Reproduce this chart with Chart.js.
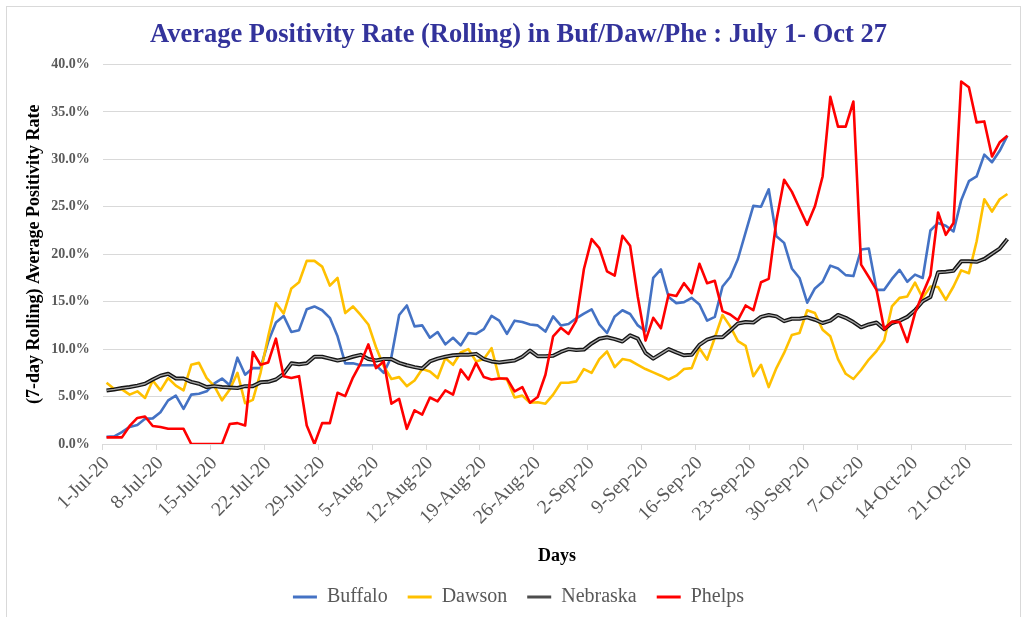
<!DOCTYPE html>
<html>
<head>
<meta charset="utf-8">
<title>Average Positivity Rate</title>
<script src="https://cdn.jsdelivr.net/npm/chart.js@4.4.1/dist/chart.umd.min.js"></script>
<style>
    html, body { margin: 0; padding: 0; background: #fff; }
    #wrap { position: relative; width: 1026px; height: 617px; overflow: hidden; }
    #frame { position: absolute; left: 6px; top: 6px; width: 1015px; height: 660px; border: 1px solid #d9d9d9; box-sizing: border-box; }
    #chart { position: absolute; left: 0; top: 0; }
</style>
</head>
<body>
<div id="wrap">
    <div id="frame"></div>
    <canvas id="chart" width="1026" height="617"></canvas>
</div>
<script>
// Days 1-Jul-20 .. 26-Oct-20 (one value per day)
const months = [['Jul', 31], ['Aug', 31], ['Sep', 30], ['Oct', 26]];
const categories = [];
months.forEach(([name, days]) => {
    for (let d = 1; d <= days; d++) categories.push(d + '-' + name + '-20');
});

// weekly tick labels shown on the x axis
const tickLabels = ['1-Jul-20', '8-Jul-20', '15-Jul-20', '22-Jul-20', '29-Jul-20', '5-Aug-20', '12-Aug-20',
    '19-Aug-20', '26-Aug-20', '2-Sep-20', '9-Sep-20', '16-Sep-20', '23-Sep-20', '30-Sep-20',
    '7-Oct-20', '14-Oct-20', '21-Oct-20'];

const yTicks = [0, 5, 10, 15, 20, 25, 30, 35, 40];

// 7-day rolling positivity rate, %
const buffalo = [
    0.75, 0.8, 1.25, 1.8, 2.0, 2.65, 2.7, 3.35, 4.6, 5.1, 3.7, 5.2, 5.3, 5.55, 6.4, 6.9, 6.2, 9.1, 7.3, 8.0,
    8.0, 10.8, 12.8, 13.5, 11.8, 12.0, 14.2, 14.5, 14.1, 13.3, 11.35, 8.5, 8.5, 8.3, 8.3, 8.3, 7.5, 9.2, 13.6, 14.6,
    12.4, 12.5, 11.2, 11.8, 10.5, 11.2, 10.4, 11.7, 11.6, 12.1, 13.5, 13.0, 11.6, 13.0, 12.85, 12.6, 12.5, 11.85, 13.45, 12.5,
    12.65, 13.25, 13.75, 14.2, 12.6, 11.7, 13.45, 14.1, 13.7, 12.5, 11.9, 17.5, 18.4, 15.5, 14.85, 14.95, 15.4, 14.7, 13.0, 13.4,
    16.6, 17.6, 19.5, 22.3, 25.1, 25.0, 26.85, 21.9, 21.2, 18.5, 17.5, 14.9, 16.4, 17.1, 18.8, 18.5, 17.8, 17.7, 20.5, 20.6,
    16.25, 16.25, 17.4, 18.35, 17.1, 17.85, 17.5, 22.5, 23.3, 23.0, 22.4, 25.7, 27.7, 28.2, 30.5, 29.7, 30.9, 32.5
];
const dawson = [
    6.45, 5.8, 5.75, 5.2, 5.55, 4.85, 6.7, 5.65, 6.95, 6.15, 5.65, 8.35, 8.55, 6.95, 6.1, 4.6, 5.75, 7.5, 4.3, 4.65,
    7.5, 11.35, 14.85, 13.75, 16.4, 17.05, 19.3, 19.3, 18.7, 16.7, 17.5, 13.8, 14.5, 13.6, 12.6, 10.2, 8.2, 6.85, 7.05, 6.1,
    6.7, 7.9, 7.65, 6.95, 9.05, 8.35, 9.65, 10.0, 8.7, 8.95, 10.1, 6.95, 6.8, 4.9, 5.1, 4.35, 4.4, 4.25, 5.2, 6.45,
    6.45, 6.6, 7.9, 7.5, 8.95, 9.75, 8.1, 8.95, 8.8, 8.35, 7.9, 7.55, 7.2, 6.8, 7.2, 7.9, 8.0, 10.1, 8.9, 11.2,
    13.6, 12.4, 10.85, 10.35, 7.15, 8.35, 6.0, 8.0, 9.6, 11.5, 11.7, 14.1, 13.8, 12.05, 11.35, 8.95, 7.4, 6.85, 7.8, 8.9,
    9.8, 10.9, 14.5, 15.4, 15.55, 17.0, 15.4, 16.6, 16.55, 15.2, 16.6, 18.3, 18.0, 21.35, 25.8, 24.5, 25.8, 26.35
];
const nebraska = [
    5.65, 5.75, 5.9, 6.0, 6.15, 6.35, 6.8, 7.2, 7.4, 6.9, 6.9, 6.55, 6.35, 6.0, 6.1, 6.0, 5.95, 5.9, 6.1, 6.1,
    6.5, 6.55, 6.8, 7.4, 8.5, 8.4, 8.5, 9.2, 9.2, 9.0, 8.8, 8.95, 9.2, 9.4, 8.95, 8.8, 8.95, 8.95, 8.55, 8.3,
    8.1, 7.95, 8.7, 9.0, 9.2, 9.35, 9.4, 9.4, 9.5, 8.95, 8.7, 8.6, 8.7, 8.8, 9.2, 9.85, 9.25, 9.25, 9.3, 9.7,
    10.0, 9.9, 9.95, 10.6, 11.1, 11.25, 11.05, 10.8, 11.45, 11.1, 9.6, 9.0, 9.5, 10.0, 9.65, 9.35, 9.4, 10.45, 11.0, 11.25,
    11.25, 11.95, 12.7, 12.85, 12.8, 13.4, 13.6, 13.45, 12.95, 13.2, 13.2, 13.35, 13.1, 12.75, 13.0, 13.6, 13.3, 12.85, 12.3, 12.6,
    12.8, 12.1, 12.75, 13.0, 13.4, 14.1, 15.05, 15.5, 18.1, 18.15, 18.25, 19.25, 19.25, 19.2, 19.5, 20.05, 20.6, 21.6
];
const phelps = [
    0.7, 0.7, 0.7, 1.9, 2.75, 2.9, 1.9, 1.8, 1.6, 1.6, 1.6, 0, 0, 0, 0, 0, 2.1, 2.2, 1.95, 9.7,
    8.35, 8.6, 11.1, 7.15, 6.95, 7.15, 1.95, 0, 2.2, 2.2, 5.4, 5.05, 7.0, 8.5, 10.5, 8.0, 8.7, 4.25, 4.75, 1.6,
    3.55, 3.1, 4.9, 4.5, 5.65, 5.2, 7.85, 6.8, 8.55, 7.05, 6.8, 6.9, 6.9, 5.55, 6.0, 4.35, 4.95, 7.3, 11.35, 12.25,
    11.6, 13.0, 18.45, 21.6, 20.65, 18.2, 17.75, 21.95, 20.9, 15.5, 10.9, 13.3, 12.2, 15.75, 15.6, 16.95, 15.9, 19.0, 16.95, 17.2,
    14.0, 13.65, 13.05, 14.6, 14.1, 17.05, 17.4, 23.55, 27.85, 26.6, 24.85, 23.1, 25.05, 28.2, 36.6, 33.45, 33.45, 36.1, 18.9, 17.6,
    16.25, 12.1, 12.9, 12.85, 10.75, 13.8, 15.85, 17.75, 24.4, 22.05, 23.3, 38.2, 37.6, 33.9, 34.0, 30.3, 31.8, 32.5
];

const serif = "'Liberation Serif', 'Times New Roman', serif";
const grey = '#595959';
const gridColor = '#d9d9d9';

function lineSet(label, data, color, width, order) {
    return {
        label: label,
        data: data,
        borderColor: color,
        backgroundColor: color,
        borderWidth: width,
        pointRadius: 0,
        pointHoverRadius: 0,
        tension: 0,
        borderJoinStyle: 'round',
        order: order
    };
}

// Nebraska is drawn as a compound line: dark outer stroke + lighter core
const nebraskaInner = lineSet('nebraska-inner', nebraska, '#a6a6a6', 1.3, 1);

new Chart(document.getElementById('chart'), {
    type: 'line',
    data: {
        labels: categories,
        datasets: [
            lineSet('Buffalo', buffalo, '#4472C4', 2.6, 4),
            lineSet('Dawson', dawson, '#FFC000', 2.6, 3),
            lineSet('Nebraska', nebraska, '#141414', 4, 2),
            nebraskaInner,
            lineSet('Phelps', phelps, '#FF0000', 2.6, 0)
        ]
    },
    options: {
        responsive: false,
        animation: false,
        layout: {
            padding: { left: 24, right: 13, top: 0, bottom: 0 }
        },
        plugins: {
            title: {
                display: true,
                text: 'Average Positivity Rate (Rolling) in Buf/Daw/Phe : July 1- Oct 27',
                color: '#33339B',
                font: { family: serif, size: 26.5, weight: 'bold' },
                padding: { top: 19, bottom: 13.7 }
            },
            legend: {
                position: 'bottom',
                labels: {
                    color: grey,
                    boxWidth: 24,
                    boxHeight: 3,
                    padding: 20,
                    font: { family: serif, size: 20 },
                    sort: (a, b) => a.datasetIndex - b.datasetIndex,
                    generateLabels: function(chart) {
                        const items = Chart.defaults.plugins.legend.labels.generateLabels(chart);
                        return items.filter(it => it.text !== 'nebraska-inner').map(it => {
                            it.fillStyle = it.text === 'Nebraska' ? '#4d4d4d' : it.strokeStyle;
                            it.lineWidth = 0;
                            return it;
                        });
                    }
                }
            },
            tooltip: { enabled: false }
        },
        scales: {
            x: {
                type: 'category',
                offset: true,
                grid: {
                    display: true,
                    offset: true,
                    drawOnChartArea: false,
                    tickLength: 6,
                    color: ctx => (ctx.index % 7 === 0 ? gridColor : 'rgba(0,0,0,0)')
                },
                border: { color: gridColor },
                ticks: {
                    autoSkip: false,
                    maxRotation: 45,
                    minRotation: 45,
                    padding: 2,
                    color: grey,
                    font: { family: serif, size: 19.5 },
                    callback: (value, index) => (index % 7 === 0 ? tickLabels[index / 7] : '')
                },
                title: {
                    display: true,
                    text: 'Days',
                    color: '#000',
                    font: { family: serif, size: 18, weight: 'bold' },
                    padding: { top: 0, bottom: 0 }
                },
                afterFit: scale => { scale.height = 123; }
            },
            y: {
                min: yTicks[0],
                max: yTicks[yTicks.length - 1],
                afterBuildTicks: scale => { scale.ticks = yTicks.map(v => ({ value: v })); },
                grid: { color: gridColor, lineWidth: 1, drawTicks: false },
                border: { display: false },
                ticks: {
                    padding: 13,
                    color: grey,
                    font: { family: serif, size: 14, weight: 'bold' },
                    callback: value => value.toFixed(1) + '%'
                },
                title: {
                    display: true,
                    text: '(7-day Rolling) Average Positivity Rate',
                    color: '#000',
                    font: { family: serif, size: 18, weight: 'bold' },
                    padding: { top: 0, bottom: 0 }
                },
                afterFit: scale => { scale.width = 78.7; }
            }
        }
    }
});
</script>
</body>
</html>
